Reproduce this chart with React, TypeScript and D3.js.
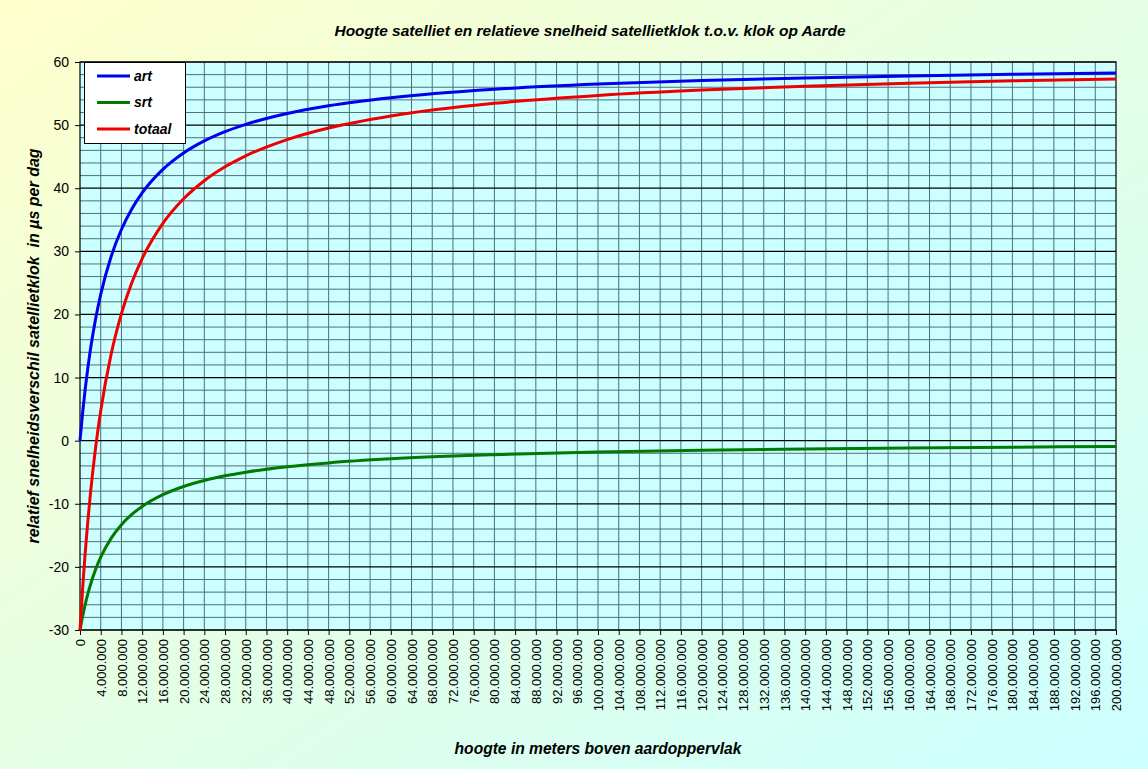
import React, { useEffect, useRef } from 'react';
import * as d3 from 'd3';

// hoogte in miljoenen meters
const hoogte = [0, 0.5, 1, 1.5, 2, 3, 4, 6, 8, 10, 12, 16, 20, 24, 28, 32, 40, 48, 60, 80, 100, 120, 140, 160, 180, 200];
const art = [0, 4.37, 8.15, 11.45, 14.36, 19.24, 23.18, 29.15, 33.46, 36.71, 39.26, 42.98, 45.58, 47.49, 48.96, 50.12, 51.84, 53.06, 54.33, 55.67, 56.5, 57.07, 57.48, 57.8, 58.05, 58.24];
const srt = [-30.05, -27.86, -25.97, -24.32, -22.87, -20.43, -18.46, -15.48, -13.32, -11.69, -10.42, -8.56, -7.26, -6.3, -5.57, -4.99, -4.13, -3.52, -2.88, -2.22, -1.8, -1.52, -1.31, -1.15, -1.03, -0.93];
const totaal = [-30.05, -23.49, -17.82, -12.87, -8.51, -1.19, 4.72, 13.67, 20.14, 25.02, 28.84, 34.42, 38.32, 41.19, 43.39, 45.13, 47.71, 49.54, 51.45, 53.45, 54.7, 55.55, 56.17, 56.65, 57.02, 57.31];

const series = [
  { name: 'art', values: art, color: '#0000ee' },
  { name: 'srt', values: srt, color: '#007a00' },
  { name: 'totaal', values: totaal, color: '#ee0000' },
];

const yTicks = [-30, -20, -10, 0, 10, 20, 30, 40, 50, 60];
const xTicks = d3.range(0, 201, 4);

const fmt = (v: number) => v === 0 ? '0' : (v * 1e6).toLocaleString('en-US').replace(/,/g, '.');

const App = () => {
  const ref = useRef<SVGSVGElement>(null);

  useEffect(() => {
    const svg = d3.select(ref.current);
    svg.selectAll('*').remove();

    const W = 1148, H = 769;
    const left = 80, right = 1116, top = 62, bottom = 630;
    const font = 'Arial, "Liberation Sans", sans-serif';

    // achtergrond
    const defs = svg.append('defs');
    const grad = defs.append('linearGradient').attr('id', 'bg')
      .attr('x1', '0').attr('y1', '0').attr('x2', '1').attr('y2', '1');
    grad.append('stop').attr('offset', '0%').attr('stop-color', '#ffffcc');
    grad.append('stop').attr('offset', '100%').attr('stop-color', '#ccffff');
    svg.append('rect').attr('width', W).attr('height', H).attr('fill', 'url(#bg)');

    const x = d3.scaleLinear().domain([0, 200]).range([left, right]);
    const y = d3.scaleLinear().domain([-30, 60]).range([bottom, top]);

    svg.append('rect')
      .attr('x', left).attr('y', top)
      .attr('width', right - left).attr('height', bottom - top)
      .attr('fill', '#ccffff');

    // rasterlijnen
    const grid = svg.append('g');
    xTicks.slice(1, -1).forEach(v => {
      grid.append('line')
        .attr('x1', x(v)).attr('x2', x(v)).attr('y1', top).attr('y2', bottom)
        .attr('stroke', '#4f6f7a').attr('stroke-width', 1);
    });
    d3.range(-28, 60, 2).filter(v => v % 10 !== 0).forEach(v => {
      grid.append('line')
        .attr('x1', left).attr('x2', right).attr('y1', y(v)).attr('y2', y(v))
        .attr('stroke', '#4f6f7a').attr('stroke-width', 1);
    });
    yTicks.forEach(v => {
      grid.append('line')
        .attr('x1', left).attr('x2', right).attr('y1', y(v)).attr('y2', y(v))
        .attr('stroke', '#000').attr('stroke-width', 1.2);
    });

    svg.append('rect')
      .attr('x', left).attr('y', top)
      .attr('width', right - left).attr('height', bottom - top)
      .attr('fill', 'none').attr('stroke', '#000').attr('stroke-width', 1.2);

    // assen
    const yAxis = svg.append('g')
      .attr('transform', `translate(${left},0)`)
      .call(d3.axisLeft(y).tickValues(yTicks).tickFormat(d => String(d)).tickSize(5).tickPadding(6));
    yAxis.select('.domain').remove();
    yAxis.selectAll('text').attr('font-size', 14).attr('font-family', font).attr('fill', '#000');

    const xAxis = svg.append('g')
      .attr('transform', `translate(0,${bottom})`)
      .call(d3.axisBottom(x).tickValues(xTicks).tickFormat(d => fmt(+d)).tickSize(5));
    xAxis.select('.domain').remove();
    xAxis.selectAll('text')
      .attr('font-size', 13).attr('font-family', font).attr('fill', '#000')
      .attr('transform', 'rotate(-90)')
      .attr('text-anchor', 'end')
      .attr('x', -9).attr('y', 0).attr('dy', '0.35em');

    // lijnen
    const line = d3.line<number>()
      .x((_, i) => x(hoogte[i]))
      .y(d => y(d))
      .curve(d3.curveMonotoneX);

    series.forEach(s => {
      svg.append('path')
        .datum(s.values)
        .attr('fill', 'none')
        .attr('stroke', s.color)
        .attr('stroke-width', 3)
        .attr('d', line);
    });

    // legenda
    const lg = svg.append('g');
    lg.append('rect')
      .attr('x', 84.5).attr('y', 62.5).attr('width', 101).attr('height', 81)
      .attr('fill', '#fff').attr('stroke', '#000').attr('stroke-width', 1);
    series.forEach((s, i) => {
      const ly = 76 + i * 26.5;
      lg.append('line')
        .attr('x1', 97).attr('x2', 130).attr('y1', ly).attr('y2', ly)
        .attr('stroke', s.color).attr('stroke-width', 3);
      lg.append('text')
        .attr('x', 134).attr('y', ly).attr('dy', '0.35em')
        .attr('font-family', font).attr('font-size', 14)
        .attr('font-weight', 'bold').attr('font-style', 'italic')
        .text(s.name);
    });

    // titels
    svg.append('text')
      .attr('x', 590).attr('y', 36)
      .attr('text-anchor', 'middle')
      .attr('font-family', font).attr('font-size', 15.5)
      .attr('font-weight', 'bold').attr('font-style', 'italic')
      .text('Hoogte satelliet en relatieve snelheid satellietklok t.o.v. klok op Aarde');

    svg.append('text')
      .attr('transform', `translate(39,${(top + bottom) / 2}) rotate(-90)`)
      .attr('text-anchor', 'middle')
      .style('white-space', 'pre')
      .attr('font-family', font).attr('font-size', 16)
      .attr('font-weight', 'bold').attr('font-style', 'italic')
      .text('relatief snelheidsverschil satellietklok  in \u00b5s per dag');

    svg.append('text')
      .attr('x', 598).attr('y', 754)
      .attr('text-anchor', 'middle')
      .attr('font-family', font).attr('font-size', 15.6)
      .attr('font-weight', 'bold').attr('font-style', 'italic')
      .text('hoogte in meters boven aardoppervlak');
  }, []);

  return (
    <svg ref={ref} width={1148} height={769}
      style={{ position: 'absolute', left: 0, top: 0, display: 'block' }} />
  );
};

export default App;
